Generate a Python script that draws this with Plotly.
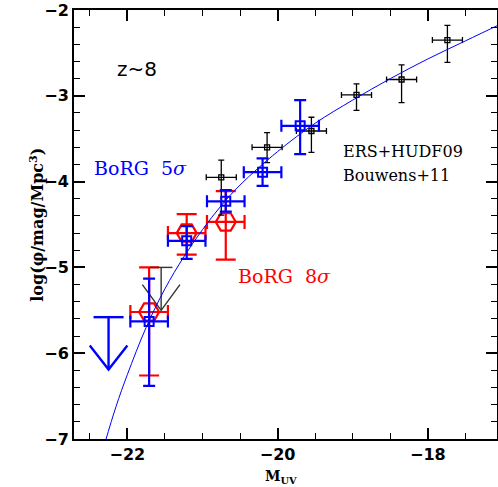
import plotly.graph_objects as go

# ---------------- data ----------------
# ERS+HUDF09 (Bouwens+11) points
b11_M = [-17.74, -18.35, -18.95, -19.55, -20.14, -20.75]
b11_phi = [-2.35, -2.81, -2.99, -3.41, -3.60, -3.95]
b11_err_hi = [0.17, 0.17, 0.13, 0.16, 0.17, 0.20]
b11_err_lo = [0.26, 0.27, 0.18, 0.25, 0.18, 0.44]
b11_dM = [0.20, 0.20, 0.20, 0.20, 0.20, 0.20]

# BoRG 5 sigma
b5_M = [-21.71, -21.21, -20.69, -20.20, -19.70]
b5_phi = [-5.63, -4.69, -4.23, -3.89, -3.35]
b5_err_hi = [0.50, 0.17, 0.13, 0.16, 0.30]
b5_err_lo = [0.75, 0.21, 0.12, 0.16, 0.33]
b5_dM = [0.25, 0.25, 0.25, 0.25, 0.25]

# BoRG 8 sigma
b8_M = [-21.71, -21.21, -20.69]
b8_phi = [-5.52, -4.60, -4.47]
b8_err_hi = [0.52, 0.22, 0.36]
b8_err_lo = [0.74, 0.25, 0.44]
b8_dM = [0.25, 0.25, 0.25]

# upper limits: (M, top of bar, arrow tip)
lim5_M, lim5_top, lim5_tip = -22.25, -5.58, -6.19
limB_M, limB_top, limB_tip = -21.55, -5.00, -5.50

# Schechter-fit curve
fit_M = [-22.30, -22.15, -22.00, -21.75, -21.50, -21.25, -21.00, -20.75,
         -20.50, -20.00, -19.50, -19.00, -18.50, -18.00, -17.50, -17.00]
fit_phi = [-7.05, -6.62, -6.25, -5.70, -5.25, -4.88, -4.56, -4.28,
           -4.04, -3.65, -3.32, -3.05, -2.80, -2.57, -2.36, -2.15]

x_ticks = [-22, -20, -18]
y_ticks = [-7, -6, -5, -4, -3, -2]

BLUE = "#0000ff"
RED = "#ff0000"


def limit_trace(m, top, tip, color, width, cap, head_w, head_h):
    xs = [m - cap, m + cap, None, m, m, None,
          m - head_w, m, m + head_w]
    ys = [top, top, None, top, tip, None,
          tip + head_h, tip, tip + head_h]
    return go.Scatter(x=xs, y=ys, mode="lines", showlegend=False,
                      line=dict(color=color, width=width), hoverinfo="skip")


fig = go.Figure()

# red 8 sigma
fig.add_trace(go.Scatter(
    x=b8_M, y=b8_phi, mode="markers", showlegend=False,
    marker=dict(symbol="hexagon2-open", size=20, color=RED,
                line=dict(color=RED, width=2.2)),
    error_y=dict(type="data", symmetric=False, array=b8_err_hi,
                 arrayminus=b8_err_lo, color=RED, thickness=2.2, width=10),
    error_x=dict(type="data", array=b8_dM, color=RED, thickness=2.2, width=7),
))

# black upper limit
fig.add_trace(limit_trace(limB_M, limB_top, limB_tip, "#333333", 1.4,
                          0.15, 0.25, 0.30))

# Bouwens+11
fig.add_trace(go.Scatter(
    x=b11_M, y=b11_phi, mode="markers", showlegend=False,
    marker=dict(symbol="square-open", size=5, color="black",
                line=dict(color="black", width=1.3)),
    error_y=dict(type="data", symmetric=False, array=b11_err_hi,
                 arrayminus=b11_err_lo, color="black", thickness=1.3, width=3),
    error_x=dict(type="data", array=b11_dM, color="black", thickness=1.3, width=3),
))

# blue 5 sigma
fig.add_trace(go.Scatter(
    x=b5_M, y=b5_phi, mode="markers", showlegend=False,
    marker=dict(symbol="square-open", size=9, color=BLUE,
                line=dict(color=BLUE, width=2)),
    error_y=dict(type="data", symmetric=False, array=b5_err_hi,
                 arrayminus=b5_err_lo, color=BLUE, thickness=2.2, width=6),
    error_x=dict(type="data", array=b5_dM, color=BLUE, thickness=2.2, width=6),
))

# blue upper limit
fig.add_trace(limit_trace(lim5_M, lim5_top, lim5_tip, BLUE, 2.4,
                          0.20, 0.25, 0.28))

# fit curve
fig.add_trace(go.Scatter(x=fit_M, y=fit_phi, mode="lines", showlegend=False,
                         line=dict(color=BLUE, width=1, shape="spline")))

axis_common = dict(
    showgrid=False, zeroline=False, showline=True, linecolor="black",
    linewidth=2, mirror="allticks", ticks="inside", tickwidth=1.6,
    ticklen=11, tickcolor="black", automargin=False,
    ticklabeloverflow="allow",
    tickfont=dict(family="DejaVu Sans", size=16, color="black"),
)

fig.update_xaxes(
    range=[-22.71, -17.08], tickvals=x_ticks,
    ticktext=["<b>\u221222</b>", "<b>\u221220</b>", "<b>\u221218</b>"],
    minor=dict(dtick=0.5, tick0=-22, ticks="inside", ticklen=6,
               tickwidth=1.3, tickcolor="black"),
    **axis_common)
fig.update_yaxes(
    range=[-7, -2], tickvals=y_ticks,
    ticktext=["<b>\u2212" + str(abs(v)) + "</b>" for v in y_ticks],
    minor=dict(dtick=0.2, tick0=-7, ticks="inside", ticklen=6,
               tickwidth=1.3, tickcolor="black"),
    **axis_common)

serif = "DejaVu Serif"
fig.update_layout(
    width=498, height=487,
    margin=dict(l=74, r=1, t=10, b=48),
    plot_bgcolor="white", paper_bgcolor="white",
    annotations=[
        dict(x=-21.87, y=-2.69, xref="x", yref="y", text="z~8",
             showarrow=False, font=dict(family="DejaVu Sans", size=20,
                                        color="black")),
        dict(x=-22.47, y=-3.84, xref="x", yref="y", xanchor="left",
             text="BoRG  5<i>\u03c3</i>", showarrow=False,
             font=dict(family=serif, size=19, color=BLUE)),
        dict(x=-20.55, y=-5.10, xref="x", yref="y", xanchor="left",
             text="BoRG  8<i>\u03c3</i>", showarrow=False,
             font=dict(family=serif, size=19, color=RED)),
        dict(x=-19.15, y=-3.645, xref="x", yref="y", xanchor="left",
             text="ERS+HUDF09", showarrow=False,
             font=dict(family=serif, size=16, color="black")),
        dict(x=-19.15, y=-3.925, xref="x", yref="y", xanchor="left",
             text="Bouwens+11", showarrow=False,
             font=dict(family=serif, size=16, color="black")),
        dict(x=0.49, y=-0.088, xref="paper", yref="paper", yanchor="middle",
             text="<b>M<sub>UV</sub></b>", showarrow=False,
             font=dict(family=serif, size=14, color="black")),
        dict(x=-0.12, y=0.5, xref="paper", yref="paper", textangle=-90,
             text="<b>log(\u03c6/mag/Mpc<sup>3</sup>)</b>", showarrow=False,
             font=dict(family=serif, size=16, color="black")),
    ],
)

fig.write_html("out.html",
               config={"displayModeBar": False},
               post_script="document.body.style.margin='0px';")
